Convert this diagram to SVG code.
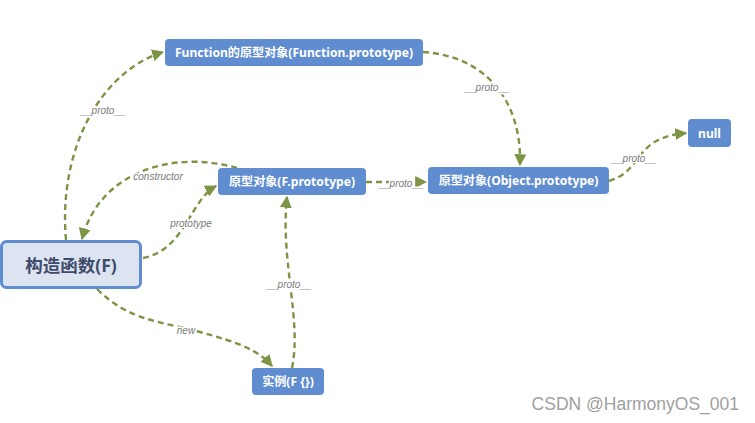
<svg xmlns="http://www.w3.org/2000/svg" width="755" height="423" viewBox="0 0 755 423">
<style>
.box{fill:#5f8dd0;}
.nt{fill:#fff;font-family:"Noto Sans","Noto Sans CJK SC",sans-serif;font-weight:bold;font-size:12.1px;text-anchor:middle;dominant-baseline:central;}
.edge{fill:none;stroke:#7c9444;stroke-width:2.4;stroke-dasharray:6 4;marker-end:url(#ah);}
.lbl{fill:#7a7a7a;font-family:"Liberation Sans",sans-serif;font-style:italic;font-size:10px;text-anchor:middle;dominant-baseline:central;stroke:#fff;stroke-width:3;paint-order:stroke;}
</style>
<defs>
<marker id="ah" viewBox="0 0 10 10" refX="9" refY="5" markerWidth="5" markerHeight="5" orient="auto" markerUnits="strokeWidth">
<path d="M0,0 L10,5 L0,10 z" fill="#7c9444"/>
</marker>
</defs>
<rect width="755" height="423" fill="#fff"/>
<g id="connectors">
<path class="edge" d="M66,240 C58,150 100,72 163,52"/>
<path class="edge" d="M423,52 C485,56 522,100 520,165"/>
<path class="edge" d="M366,182 L426,182"/>
<path class="edge" d="M609,181 C645,170 632,138 686,133"/>
<path class="edge" d="M237,168 C175,150 100,170 82,239"/>
<path class="edge" d="M143,258 C185,250 190,200 216,186"/>
<path class="edge" d="M97,289 C130,322 165,322 200,332 C240,343 258,350 272,366"/>
<path class="edge" d="M292,368 C302,320 280,260 287,197"/>
<text class="lbl" x="103" y="110">__proto__</text>
<text class="lbl" x="487" y="87">__proto__</text>
<text class="lbl" x="401" y="183">__proto__</text>
<text class="lbl" x="634" y="158">__proto__</text>
<text class="lbl" x="158" y="176">constructor</text>
<text class="lbl" x="191" y="223">prototype</text>
<text class="lbl" x="186" y="330">new</text>
<text class="lbl" x="289" y="284">__proto__</text>
</g>
<g id="node-function-proto">
<rect class="box" x="165" y="39" width="258" height="27" rx="4"/>
<text class="nt" x="294" y="52.5">Function的原型对象(Function.prototype)</text>
</g>
<g id="node-object-proto">
<rect class="box" x="428" y="167" width="181" height="27" rx="4"/>
<text class="nt" x="518.5" y="180.5">原型对象(Object.prototype)</text>
</g>
<g id="node-null">
<rect class="box" x="688" y="119" width="43" height="28" rx="4"/>
<text class="nt" x="709.5" y="133">null</text>
</g>
<g id="node-f-proto">
<rect class="box" x="218" y="168" width="148" height="27" rx="4"/>
<text class="nt" x="292" y="181.5">原型对象(F.prototype)</text>
</g>
<g id="node-constructor">
<rect x="1.5" y="241.5" width="139" height="46" rx="5" fill="#dde4f1" stroke="#5f8dd0" stroke-width="3"/>
<text x="71" y="265" font-family="Noto Sans,Noto Sans CJK SC,sans-serif" font-weight="bold" font-size="17.5" fill="#3d4c6b" text-anchor="middle" dominant-baseline="central">构造函数(F)</text>
</g>
<g id="node-instance">
<rect class="box" x="252" y="368" width="72" height="27" rx="4"/>
<text class="nt" x="288" y="381.5">实例(F {})</text>
</g>
<text x="739" y="404" font-family="Liberation Sans,sans-serif" font-size="17.5" fill="#a0a0a0" text-anchor="end" dominant-baseline="central">CSDN @HarmonyOS_001</text>
</svg>
